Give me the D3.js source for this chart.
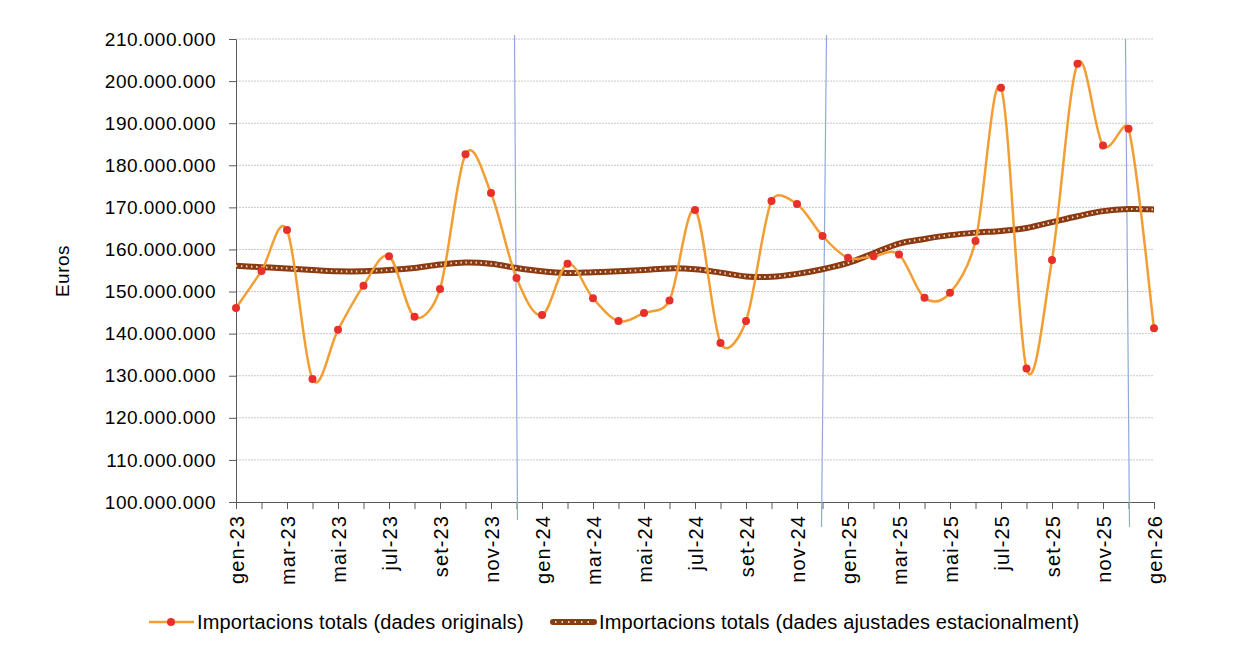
<!DOCTYPE html>
<html>
<head>
<meta charset="utf-8">
<script src="https://cdn.jsdelivr.net/npm/d3@7"></script>
<style>
  body { margin: 0; background: #fff; }
  text { font-family: "Liberation Sans", Arial, sans-serif; fill: #000; }
</style>
</head>
<body>
<div id="chart"></div>
<script>
// months gen-23 .. gen-26
const months = ["gen-23","feb-23","mar-23","abr-23","mai-23","jun-23","jul-23","ago-23","set-23","oct-23","nov-23","des-23",
  "gen-24","feb-24","mar-24","abr-24","mai-24","jun-24","jul-24","ago-24","set-24","oct-24","nov-24","des-24",
  "gen-25","feb-25","mar-25","abr-25","mai-25","jun-25","jul-25","ago-25","set-25","oct-25","nov-25","des-25",
  "gen-26"];

// Importacions totals (dades originals), millions of euros
const original = [146.1, 154.9, 164.6, 129.2, 140.9, 151.4, 158.4, 144.0, 150.6, 182.6, 173.4, 153.2,
  144.4, 156.6, 148.4, 143.0, 144.9, 147.9, 169.4, 137.8, 143.0, 171.5, 170.8, 163.2,
  158.0, 158.4, 158.8, 148.5, 149.7, 162.0, 198.4, 131.7, 157.5, 204.1, 184.7, 188.7,
  141.3];

// Importacions totals (dades ajustades estacionalment)
const adjusted = [156.1, 155.8, 155.5, 155.1, 154.8, 154.8, 155.1, 155.6, 156.4, 156.9, 156.6, 155.6,
  154.8, 154.4, 154.6, 154.8, 155.1, 155.5, 155.3, 154.5, 153.6, 153.5, 154.2, 155.3,
  156.8, 159.1, 161.4, 162.5, 163.4, 164.0, 164.4, 165.1, 166.5, 167.9, 169.1, 169.6,
  169.5];

const yTicks = [100,110,120,130,140,150,160,170,180,190,200,210];
const yearBreaks = ["des-23", "des-24", "des-25"];
const seriesNames = ["Importacions totals (dades originals)", "Importacions totals (dades ajustades estacionalment)"];

// spreadsheet-style smoothing: catmull-rom bezier, control arms capped at half the segment
function smoothCurve(context) {
  let pts = [];
  return {
    areaStart() {}, areaEnd() {},
    lineStart() { pts = []; },
    point(px, py) { pts.push([+px, +py]); },
    lineEnd() {
      const n = pts.length;
      if (!n) return;
      context.moveTo(pts[0][0], pts[0][1]);
      const arm = (a, b, maxLen) => {
        let dx = (b[0] - a[0]) / 6, dy = (b[1] - a[1]) / 6;
        const len = Math.hypot(dx, dy);
        if (len > maxLen && len > 0) { dx *= maxLen / len; dy *= maxLen / len; }
        return [dx, dy];
      };
      for (let i = 0; i < n - 1; i++) {
        const p0 = pts[Math.max(i - 1, 0)], p1 = pts[i], p2 = pts[i + 1], p3 = pts[Math.min(i + 2, n - 1)];
        const half = Math.hypot(p2[0] - p1[0], p2[1] - p1[1]) / 2;
        const a1 = arm(p0, p2, half), a2 = arm(p1, p3, half);
        context.bezierCurveTo(
          p1[0] + a1[0], p1[1] + a1[1],
          p2[0] - a2[0], p2[1] - a2[1],
          p2[0], p2[1]);
      }
    }
  };
}

const W = 1248, H = 666;
const margin = { top: 39, right: 94, bottom: 164, left: 236 };
const width = W - margin.left - margin.right,
      height = H - margin.top - margin.bottom;

const svg = d3.select("#chart").append("svg")
  .attr("width", W).attr("height", H);

const g = svg.append("g")
  .attr("transform", `translate(${margin.left},${margin.top})`);

const x = d3.scalePoint().domain(months).range([0, width]);
const y = d3.scaleLinear().domain([100, 210]).range([height, 0]);

// gridlines
g.append("g").selectAll("line")
  .data(yTicks.slice(1))
  .enter().append("line")
  .attr("x1", 0).attr("x2", width)
  .attr("y1", d => y(d)).attr("y2", d => y(d))
  .attr("stroke", "#c8c8c8")
  .attr("stroke-width", 1)
  .attr("stroke-dasharray", "2,1");

// y axis
const fmt = v => d3.format(",")(v * 1e6).replace(/,/g, ".");
const yAxis = g.append("g")
  .call(d3.axisLeft(y).tickValues(yTicks).tickFormat(fmt).tickSize(7).tickSizeOuter(0));
yAxis.select(".domain").attr("stroke", "#595959");
yAxis.selectAll(".tick line").attr("stroke", "#595959");
yAxis.selectAll("text")
  .attr("x", -20)
  .style("font-size", "19px")
  .style("letter-spacing", "0.5px")
  .style("font-family", "Liberation Sans, Arial, sans-serif");

// x axis
const xAxis = g.append("g")
  .attr("transform", `translate(0,${height})`)
  .call(d3.axisBottom(x).tickSize(7).tickSizeOuter(0)
    .tickFormat((d, i) => i % 2 === 0 ? d : ""));
xAxis.select(".domain").attr("stroke", "#595959");
xAxis.selectAll(".tick line").attr("stroke", "#595959");
xAxis.selectAll("text")
  .attr("transform", "rotate(-90)")
  .attr("text-anchor", "end")
  .attr("x", -13)
  .attr("y", 0)
  .attr("dy", "0.35em")
  .style("font-size", "20px")
  .style("letter-spacing", "1.1px")
  .style("font-family", "Liberation Sans, Arial, sans-serif");

// year separators (slightly slanted as in the source)
const slant = [[-2, 1], [4, -1], [-3, 1]];
g.append("g").selectAll("line")
  .data(yearBreaks)
  .enter().append("line")
  .attr("x1", (d, i) => x(d) + slant[i][0])
  .attr("x2", (d, i) => x(d) + slant[i][1])
  .attr("y1", (d, i) => i === 2 ? 0 : -4)
  .attr("y2", (d, i) => height + (i === 0 ? 18 : 25))
  .attr("stroke", "#8eaadb")
  .attr("stroke-width", 1.2);

// smoothed lines
const line = d3.line()
  .x((d, i) => x(months[i]))
  .y(d => y(d))
  .curve(smoothCurve);

// seasonally adjusted
g.append("path")
  .datum(adjusted)
  .attr("d", line)
  .attr("fill", "none")
  .attr("stroke", "#8b3a12")
  .attr("stroke-width", 6);
g.append("path")
  .datum(adjusted)
  .attr("d", line)
  .attr("fill", "none")
  .attr("stroke", "#e9d6c4")
  .attr("stroke-width", 2)
  .attr("stroke-dasharray", "1.5,3.5");

// original
g.append("path")
  .datum(original)
  .attr("d", line)
  .attr("fill", "none")
  .attr("stroke", "#f29e35")
  .attr("stroke-width", 2.5);

g.selectAll(".dot")
  .data(original)
  .enter().append("circle")
  .attr("class", "dot")
  .attr("cx", (d, i) => x(months[i]))
  .attr("cy", d => y(d))
  .attr("r", 4)
  .attr("fill", "#e8302a");

// y title
svg.append("text")
  .attr("transform", "rotate(-90)")
  .attr("x", -271)
  .attr("y", 69)
  .attr("text-anchor", "middle")
  .style("font-size", "19px")
  .style("letter-spacing", "0.5px")
  .text("Euros");

// legend
const legY = 622;
const leg1 = svg.append("g");
leg1.append("line")
  .attr("x1", 149).attr("x2", 194).attr("y1", legY).attr("y2", legY)
  .attr("stroke", "#f29e35").attr("stroke-width", 2.5);
leg1.append("circle").attr("cx", 171).attr("cy", legY).attr("r", 4).attr("fill", "#e8302a");
leg1.append("text").attr("x", 197).attr("y", legY).attr("dy", "0.35em")
  .style("font-size", "20px").style("letter-spacing", "0.15px").text(seriesNames[0]);

const leg2 = svg.append("g");
leg2.append("line")
  .attr("x1", 553).attr("x2", 594).attr("y1", legY).attr("y2", legY)
  .attr("stroke", "#8b3a12").attr("stroke-width", 6).attr("stroke-linecap", "round");
leg2.append("line")
  .attr("x1", 555).attr("x2", 594).attr("y1", legY).attr("y2", legY)
  .attr("stroke", "#e9d6c4").attr("stroke-width", 2).attr("stroke-dasharray", "1.5,5");
leg2.append("text").attr("x", 599).attr("y", legY).attr("dy", "0.35em")
  .style("font-size", "20px").style("letter-spacing", "0.15px").text(seriesNames[1]);
</script>
</body>
</html>
